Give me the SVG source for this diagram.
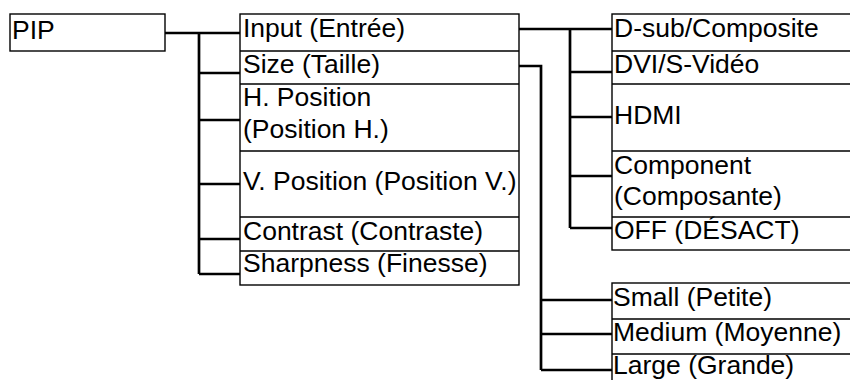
<svg xmlns="http://www.w3.org/2000/svg" width="850" height="380" viewBox="0 0 850 380">
<style>
.box{fill:#fff;stroke:#000;stroke-width:1.4}
.ln{stroke:#000;stroke-width:1.4;fill:none}
.c{stroke:#000;stroke-width:2.7;fill:none}
text{font-family:"Liberation Sans",Arial,sans-serif;font-size:26.5px;fill:#000}
</style>
<rect width="850" height="380" fill="#fff"/>
<g id="connectors">
<path class="c" d="M165 33H240M199 33V274M199 73H240M199 120H240M199 184H240M199 239H240M199 274H240"/>
<path class="c" d="M516 29H612M570 29V228M570 72H612M570 117H612M570 176H612M570 228H612"/>
<path class="c" d="M516 66H541V370M541 300H612M541 334H612M541 370H612"/>
</g>
<g id="pip">
<rect class="box" x="10" y="14" width="155" height="37"/>
<text x="12" y="39">PIP</text>
</g>
<g id="menu">
<rect class="box" x="240" y="14" width="279" height="271"/>
<path class="ln" d="M240 51H519M240 84H519M240 151H519M240 217H519M240 251H519"/>
</g>
<g id="input"><text x="243" y="37">Input (Entrée)</text></g>
<g id="size"><text x="243" y="73">Size (Taille)</text></g>
<g id="hpos"><text x="243" y="106">H. Position</text><text x="243" y="138">(Position H.)</text></g>
<g id="vpos"><text x="243" y="190">V. Position (Position V.)</text></g>
<g id="contrast"><text x="243" y="240">Contrast (Contraste)</text></g>
<g id="sharpness"><text x="243" y="272">Sharpness (Finesse)</text></g>
<g id="inputs">
<rect class="box" x="612" y="14" width="250" height="236"/>
<path class="ln" d="M612 51H850M612 84H850M612 151H850M612 217H850"/>
</g>
<g id="dsub"><text x="614" y="37">D-sub/Composite</text></g>
<g id="dvi"><text x="614" y="73">DVI/S-Vidéo</text></g>
<g id="hdmi"><text x="614" y="124">HDMI</text></g>
<g id="component"><text x="614" y="174">Component</text><text x="614" y="205">(Composante)</text></g>
<g id="off"><text x="614" y="239">OFF (DÉSACT)</text></g>
<g id="sizes">
<rect class="box" x="612" y="283" width="250" height="110"/>
<path class="ln" d="M612 319H850M612 354H850"/>
</g>
<g id="small"><text x="613" y="306">Small (Petite)</text></g>
<g id="medium"><text x="613" y="341">Medium (Moyenne)</text></g>
<g id="large"><text x="613" y="374">Large (Grande)</text></g>
</svg>
